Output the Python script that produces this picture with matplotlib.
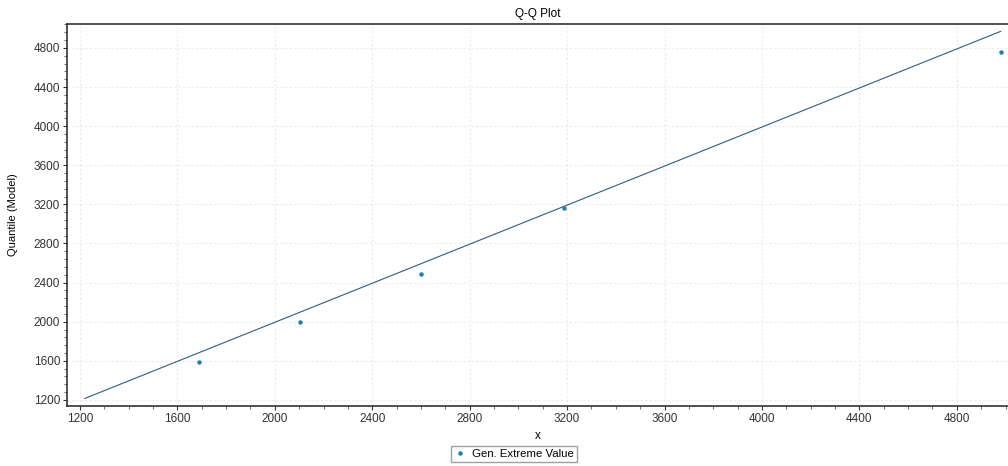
import matplotlib
matplotlib.use('Agg')
import matplotlib.pyplot as plt
from matplotlib.ticker import MultipleLocator

plt.rcParams['font.family'] = ['Liberation Sans', 'DejaVu Sans']

# Q-Q data: empirical x vs model quantile
x_vals = [1688, 2104, 2602, 3186, 4983]
q_model = [1585, 1998, 2485, 3166, 4758]

# reference line (y = x)
line_x = [1220, 4980]
line_y = [1215, 4970]

fig = plt.figure(figsize=(10.08, 4.66), dpi=100)
ax = fig.add_axes([0.0665, 0.129, 0.9335, 0.8195])

ax.plot(line_x, line_y, color='#2f5d86', linewidth=0.8)
ax.plot(x_vals, q_model, linestyle='none', marker='o', markersize=2.2,
        color='#1f7fb0', label='Gen. Extreme Value')

ax.set_xlim(1147, 5010)
ax.set_ylim(1139, 5045)
ax.xaxis.set_major_locator(MultipleLocator(400))
ax.xaxis.set_minor_locator(MultipleLocator(100))
ax.yaxis.set_major_locator(MultipleLocator(400))
ax.yaxis.set_minor_locator(MultipleLocator(80))
ax.tick_params(which='major', length=3, labelsize=8.5, colors='#333333', pad=2)
ax.tick_params(which='minor', length=2, colors='#555555')

ax.grid(True, which='major', linestyle=(0, (2, 2)), color='#ececec', linewidth=0.8)
ax.spines['right'].set_visible(False)
for side in ['left', 'bottom', 'top']:
    ax.spines[side].set_linewidth(1.2)
    ax.spines[side].set_color('#333333')

ax.set_title('Q-Q Plot', fontsize=8.5, pad=5)
ax.set_xlabel('x', fontsize=8.5, labelpad=4)
ax.set_ylabel('Quantile (Model)', fontsize=8, labelpad=11)

fig.legend(loc='center', bbox_to_anchor=(0.51, 0.026), fontsize=8.2,
           frameon=True, fancybox=False, edgecolor='#888888',
           handlelength=1.0, handletextpad=0.6, borderpad=0.25,
           markerscale=1.0)

fig.savefig('out.png', dpi=100)
